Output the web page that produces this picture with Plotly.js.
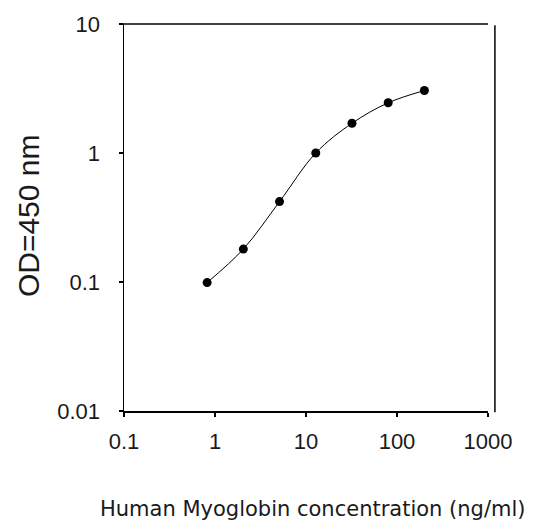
<!DOCTYPE html>
<html>
<head>
<meta charset="utf-8">
<script src="https://cdn.plot.ly/plotly-3.0.1.min.js"></script>
<style>html,body{margin:0;padding:0;background:#fff;}#chart{width:534px;height:523px;}</style>
</head>
<body>
<div id="chart"></div>
<script>
const concentration = [0.8192, 2.048, 5.12, 12.8, 32, 80, 200];
const od450 = [0.099, 0.18, 0.42, 1.0, 1.7, 2.45, 3.05];
const xTickVals = [0.1, 1, 10, 100, 1000];
const xTickText = ['0.1', '1', '10', '100', '1000'];
const yTickVals = [0.01, 0.1, 1, 10];
const yTickText = ['0.01', '0.1', '1', '10'];
const xTitle = 'Human Myoglobin concentration (ng/ml)';
const yTitle = 'OD=450 nm';

const trace = {
  x: concentration,
  y: od450,
  mode: 'lines+markers',
  type: 'scatter',
  line: {color: '#000', width: 1, shape: 'spline', smoothing: 1},
  marker: {color: '#000', size: 9, symbol: 'circle'},
  showlegend: false
};

const layout = {
  width: 534,
  height: 523,
  margin: {l: 124, r: 46, t: 24, b: 112},
  paper_bgcolor: '#fff',
  plot_bgcolor: '#fff',
  font: {family: 'Liberation Sans, Arial, sans-serif', color: '#1a1a1a'},
  xaxis: {
    type: 'log',
    range: [-1, 3],
    tickvals: xTickVals,
    ticktext: xTickText,
    ticks: 'outside',
    ticklen: 4,
    tickwidth: 1.5,
    tickcolor: '#000',
    showline: true,
    linecolor: '#000',
    linewidth: 1.5,
    showgrid: false,
    zeroline: false,
    tickfont: {size: 22, family: 'Liberation Sans, Arial, sans-serif'},
    ticklabelstandoff: 6
  },
  yaxis: {
    type: 'log',
    range: [-2, 1],
    tickvals: yTickVals,
    ticktext: yTickText,
    ticks: 'outside',
    ticklen: 4,
    tickwidth: 1.5,
    tickcolor: '#000',
    showline: true,
    linecolor: '#000',
    linewidth: 1.5,
    showgrid: false,
    zeroline: false,
    tickfont: {size: 22, family: 'Liberation Sans, Arial, sans-serif'},
    ticklabelstandoff: 14
  },
  annotations: [
    {text: xTitle, xref: 'paper', yref: 'paper', x: 0.518, y: -0.253, xanchor: 'center', yanchor: 'middle',
     showarrow: false, font: {size: 21, family: 'DejaVu Sans, sans-serif', color: '#1a1a1a'}},
    {text: yTitle, xref: 'paper', yref: 'paper', x: -0.264, y: 0.506, xanchor: 'center', yanchor: 'middle',
     textangle: -90, showarrow: false, font: {size: 30, family: 'Liberation Sans, Arial, sans-serif', color: '#1a1a1a'}}
  ],
  shapes: [
    {type: 'line', xref: 'paper', yref: 'paper', x0: -0.011, x1: 1, y0: 1, y1: 1, line: {color: '#000', width: 1.5}},
    {type: 'line', xref: 'paper', yref: 'paper', x0: 1.019, x1: 1.019, y0: -0.003, y1: 0.997, line: {color: '#000', width: 1.5}}
  ]
};

Plotly.newPlot('chart', [trace], layout, {displayModeBar: false, staticPlot: true});
</script>
</body>
</html>
